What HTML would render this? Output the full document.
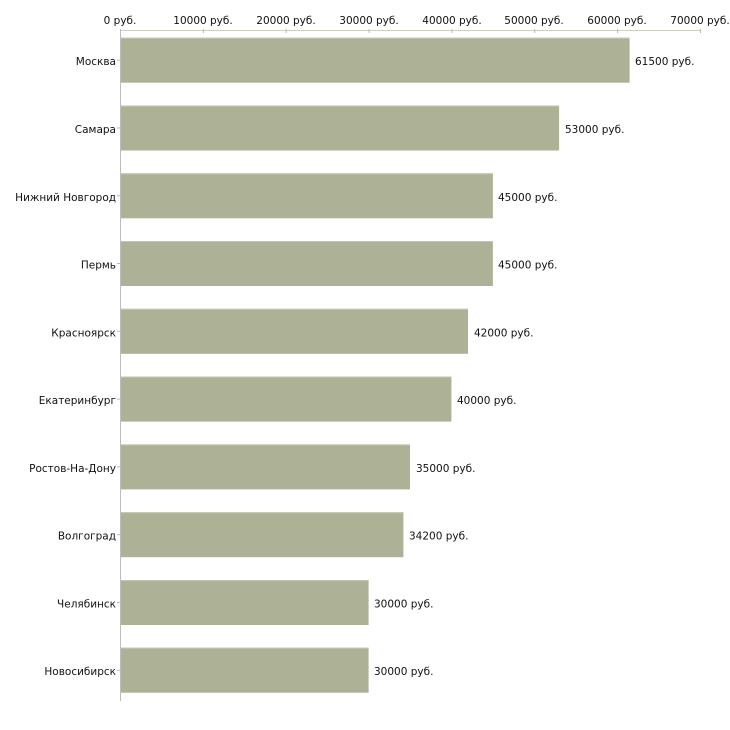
<!DOCTYPE html>
<html>
<head>
<meta charset="utf-8">
<style>
html,body{margin:0;padding:0;background:#fff;}
svg{display:block;}
text{font-family:"DejaVu Sans","Liberation Sans",sans-serif;font-size:10.5px;fill:#111;}
</style>
</head>
<body>
<svg width="730" height="730" viewBox="0 0 730 730" xmlns="http://www.w3.org/2000/svg">
<!-- top axis line -->
<line x1="120" y1="30.5" x2="700" y2="30.5" stroke="#cfcfc0" stroke-width="1"/>
<!-- top ticks -->
<g stroke="#bcc08f" stroke-width="1">
<line x1="120.5" y1="29" x2="120.5" y2="33"/>
<line x1="203.4" y1="29" x2="203.4" y2="33"/>
<line x1="286.2" y1="29" x2="286.2" y2="33"/>
<line x1="369.1" y1="29" x2="369.1" y2="33"/>
<line x1="451.9" y1="29" x2="451.9" y2="33"/>
<line x1="534.8" y1="29" x2="534.8" y2="33"/>
<line x1="617.6" y1="29" x2="617.6" y2="33"/>
<line x1="700.5" y1="29" x2="700.5" y2="33"/>
</g>
<g text-anchor="middle">
<text x="120" y="24">0 руб.</text>
<text x="203" y="24">10000 руб.</text>
<text x="286" y="24">20000 руб.</text>
<text x="369" y="24">30000 руб.</text>
<text x="452" y="24">40000 руб.</text>
<text x="534" y="24">50000 руб.</text>
<text x="617" y="24">60000 руб.</text>
<text x="700" y="24">70000 руб.</text>
</g>

<!-- bars -->
<g fill="#adb297">
<rect x="121" y="37.7" width="508.6" height="45"/>
<rect x="121" y="105.5" width="438.1" height="45"/>
<rect x="121" y="173.3" width="371.9" height="45"/>
<rect x="121" y="241.0" width="371.9" height="45"/>
<rect x="121" y="308.8" width="347.0" height="45"/>
<rect x="121" y="376.6" width="330.4" height="45"/>
<rect x="121" y="444.4" width="289.0" height="45"/>
<rect x="121" y="512.2" width="282.4" height="45"/>
<rect x="121" y="580.0" width="247.6" height="45"/>
<rect x="121" y="647.7" width="247.6" height="45"/>
</g>
<!-- subtle top highlight -->
<g fill="#c3c6b2">
<rect x="121" y="37.7" width="508.6" height="1"/>
<rect x="121" y="105.5" width="438.1" height="1"/>
<rect x="121" y="173.3" width="371.9" height="1"/>
<rect x="121" y="241.0" width="371.9" height="1"/>
<rect x="121" y="308.8" width="347.0" height="1"/>
<rect x="121" y="376.6" width="330.4" height="1"/>
<rect x="121" y="444.4" width="289.0" height="1"/>
<rect x="121" y="512.2" width="282.4" height="1"/>
<rect x="121" y="580.0" width="247.6" height="1"/>
<rect x="121" y="647.7" width="247.6" height="1"/>
</g>

<!-- vertical axis -->
<line x1="120.5" y1="30" x2="120.5" y2="701" stroke="#bdbdbd" stroke-width="1"/>
<!-- category ticks -->
<g stroke="#bcc08f" stroke-width="1">
<line x1="117" y1="60.2" x2="120" y2="60.2"/>
<line x1="117" y1="128" x2="120" y2="128"/>
<line x1="117" y1="195.8" x2="120" y2="195.8"/>
<line x1="117" y1="263.5" x2="120" y2="263.5"/>
<line x1="117" y1="331.3" x2="120" y2="331.3"/>
<line x1="117" y1="399.1" x2="120" y2="399.1"/>
<line x1="117" y1="466.9" x2="120" y2="466.9"/>
<line x1="117" y1="534.7" x2="120" y2="534.7"/>
<line x1="117" y1="602.5" x2="120" y2="602.5"/>
<line x1="117" y1="670.2" x2="120" y2="670.2"/>
</g>

<!-- category labels -->
<g text-anchor="end">
<text x="116" y="65.2">Москва</text>
<text x="116" y="133">Самара</text>
<text x="116" y="200.8">Нижний Новгород</text>
<text x="116" y="268.5">Пермь</text>
<text x="116" y="336.3">Красноярск</text>
<text x="116" y="404.1">Екатеринбург</text>
<text x="116" y="471.9">Ростов-На-Дону</text>
<text x="116" y="539.7">Волгоград</text>
<text x="116" y="607.5">Челябинск</text>
<text x="116" y="675.2">Новосибирск</text>
</g>

<!-- value labels -->
<g>
<text x="635" y="65.2">61500 руб.</text>
<text x="565" y="133">53000 руб.</text>
<text x="498" y="200.8">45000 руб.</text>
<text x="498" y="268.5">45000 руб.</text>
<text x="474" y="336.3">42000 руб.</text>
<text x="457" y="404.1">40000 руб.</text>
<text x="416" y="471.9">35000 руб.</text>
<text x="409" y="539.7">34200 руб.</text>
<text x="374" y="607.5">30000 руб.</text>
<text x="374" y="675.2">30000 руб.</text>
</g>
</svg>
</body>
</html>
